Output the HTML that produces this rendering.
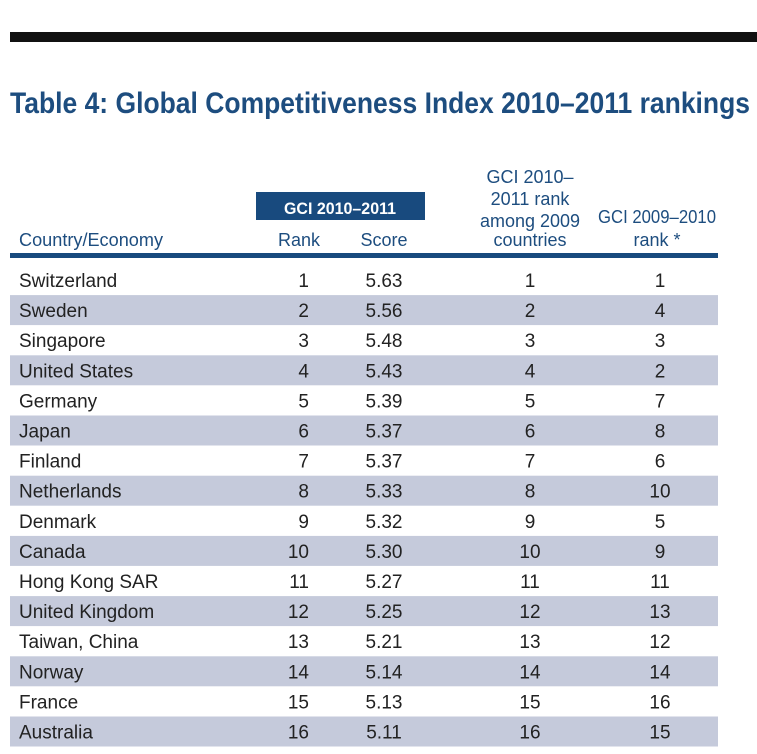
<!DOCTYPE html>
<html><head><meta charset="utf-8"><style>
body{margin:0;background:#fff;}
svg{display:block;font-family:"Liberation Sans Narrow","Liberation Sans",sans-serif;}
</style></head><body>
<svg id="s" width="757" height="754">
<rect x="10" y="32" width="747" height="10" fill="#111"/>
<text x="10" y="113" font-size="30" font-weight="bold" fill="#1d4d7f" textLength="740" lengthAdjust="spacingAndGlyphs">Table 4: Global Competitiveness Index 2010–2011 rankings</text>
<rect x="256" y="192" width="169" height="28" fill="#184a7e"/>
<text x="340" y="214" font-size="17" font-weight="bold" fill="#fff" text-anchor="middle" textLength="112" lengthAdjust="spacingAndGlyphs">GCI 2010–2011</text>
<g fill="#1d4d7f" font-size="18">
<text x="19" y="246" textLength="144" lengthAdjust="spacingAndGlyphs">Country/Economy</text>
<text x="299" y="246" text-anchor="middle">Rank</text>
<text x="384" y="246" text-anchor="middle">Score</text>
<text x="530" y="183" text-anchor="middle">GCI 2010–</text>
<text x="530" y="205" text-anchor="middle">2011 rank</text>
<text x="530" y="227" text-anchor="middle" textLength="100" lengthAdjust="spacingAndGlyphs">among 2009</text>
<text x="530" y="246" text-anchor="middle">countries</text>
<text x="657" y="223" text-anchor="middle" textLength="118" lengthAdjust="spacingAndGlyphs">GCI 2009–2010</text>
<text x="657" y="246" text-anchor="middle">rank *</text>
</g>
<rect x="10" y="253" width="708" height="5" fill="#184a7e"/>
<g id="rows"></g>
</svg>
<script>
const countries=["Switzerland","Sweden","Singapore","United States","Germany","Japan","Finland","Netherlands","Denmark","Canada","Hong Kong SAR","United Kingdom","Taiwan, China","Norway","France","Australia"];
const ranks=[1,2,3,4,5,6,7,8,9,10,11,12,13,14,15,16];
const scores=["5.63","5.56","5.48","5.43","5.39","5.37","5.37","5.33","5.32","5.30","5.27","5.25","5.21","5.14","5.13","5.11"];
const ranks2009c=[1,2,3,4,5,6,7,8,9,10,11,12,13,14,15,16];
const ranksPrev=[1,4,3,2,7,8,6,10,5,9,11,13,12,14,16,15];
const NS="http://www.w3.org/2000/svg";
const g=document.getElementById('rows');
function rowY(i){return 280+i*30.1;}
function txt(x,y,s,anchor){const t=document.createElementNS(NS,'text');t.setAttribute('x',x);t.setAttribute('y',y);t.setAttribute('font-size','19');t.setAttribute('fill','#222');if(anchor)t.setAttribute('text-anchor',anchor);t.textContent=s;return t;}
countries.forEach((c,i)=>{
const y=rowY(i);
const row=document.createElementNS(NS,'g');


if(i%2===1){const r=document.createElementNS(NS,'rect');r.setAttribute('x',10);r.setAttribute('y',y-15);r.setAttribute('width',708);r.setAttribute('height',30);r.setAttribute('fill','#c5cadb');row.appendChild(r);}
row.appendChild(txt(19,y+7,c));
row.appendChild(txt(309,y+7,String(ranks[i]),'end'));
row.appendChild(txt(384,y+7,scores[i],'middle'));
row.appendChild(txt(530,y+7,String(ranks2009c[i]),'middle'));
row.appendChild(txt(660,y+7,String(ranksPrev[i]),'middle'));
g.appendChild(row);
});
</script>
</body></html>
